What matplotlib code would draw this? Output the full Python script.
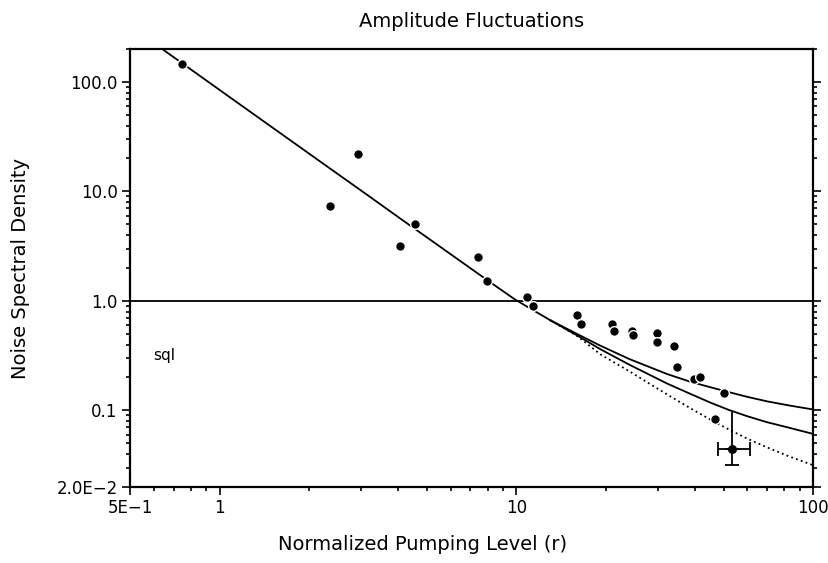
import matplotlib
matplotlib.use('Agg')
import matplotlib.pyplot as plt
from matplotlib.ticker import LogLocator, NullFormatter, FixedLocator, FixedFormatter

plt.rcParams['font.family'] = 'DejaVu Sans'

# theory curve (shared part) and the three branches at high pumping
r_main = [0.641, 0.98, 1.41, 2.02, 3.06, 4.07, 5.0, 8.17, 9.9, 13.0]
v_main = [200, 88, 43.6, 21.8, 9.8, 5.64, 3.8, 1.48, 1.03, 0.667]
r_branch = [13, 16, 19.2, 24, 32.2, 38.5, 45, 52, 60, 70, 83, 100]
v_up = [0.667, 0.50, 0.39, 0.295, 0.215, 0.183, 0.163, 0.147, 0.133, 0.121, 0.111, 0.102]
v_mid = [0.667, 0.485, 0.362, 0.262, 0.176, 0.142, 0.118, 0.101, 0.0885, 0.078, 0.0695, 0.061]
v_dot = [0.667, 0.48, 0.325, 0.228, 0.14, 0.105, 0.0826, 0.067, 0.0552, 0.0459, 0.038, 0.0316]

# measured points
r_pts = [0.749, 2.36, 2.93, 4.05, 4.57, 7.43, 7.94, 10.86, 11.4, 16.0, 16.5,
         21.0, 21.4, 24.5, 24.7, 29.8, 29.8, 34.0, 34.8, 39.8, 41.6, 46.8, 49.9]
v_pts = [145, 7.37, 22.2, 3.2, 5.09, 2.52, 1.51, 1.09, 0.895, 0.745, 0.617,
         0.617, 0.532, 0.532, 0.489, 0.515, 0.422, 0.39, 0.248, 0.194, 0.202, 0.0836, 0.143]

# point with error bars
r_err, v_err = 53.2, 0.0449
r_err_lo, r_err_hi = 47.8, 61.0
v_err_lo, v_err_hi = 0.0316, 0.097

sql_level = 1.0

fig = plt.figure(figsize=(8.29, 5.63), dpi=100)
ax = fig.add_axes([0.157, 0.135, 0.981 - 0.157, 0.913 - 0.135])
ax.set_xscale('log')
ax.set_yscale('log')
ax.set_xlim(0.5, 100)
ax.set_ylim(0.02, 200)

lw = 1.3
ax.plot(r_main, v_main, color='black', lw=lw)
ax.plot(r_branch, v_up, color='black', lw=lw)
ax.plot(r_branch, v_mid, color='black', lw=lw)
ax.plot(r_branch, v_dot, color='black', lw=lw, linestyle=(0, (1, 1.8)))
ax.axhline(sql_level, color='black', lw=lw)

ax.plot(r_pts, v_pts, linestyle='none', marker='o', ms=7, mfc='black',
        mec='white', mew=1.0, zorder=5)

ax.errorbar([r_err], [v_err],
            xerr=[[r_err - r_err_lo], [r_err_hi - r_err]],
            yerr=[[v_err - v_err_lo], [0]],
            fmt='o', ms=5.5, color='black', ecolor='black', elinewidth=1.3,
            capsize=5, capthick=1.3, zorder=6)
ax.vlines(r_err, v_err, v_err_hi, color='black', lw=1.3)

ax.text(0.65, 0.32, 'sql', fontsize=11, ha='center', va='center')

ax.set_title('Amplitude Fluctuations', fontsize=14, pad=16)
ax.set_xlabel('Normalized Pumping Level (r)', fontsize=14)
ax.set_ylabel('Noise Spectral Density', fontsize=14)
ax.xaxis.set_label_coords(0.428, -0.11)
ax.yaxis.set_label_coords(-0.146, 0.5)

ax.xaxis.set_major_locator(FixedLocator([0.5, 1, 10, 100]))
ax.xaxis.set_major_formatter(FixedFormatter(['5E\u22121', '1', '10', '100']))
ax.yaxis.set_major_locator(FixedLocator([0.02, 0.1, 1, 10, 100]))
ax.yaxis.set_major_formatter(FixedFormatter(['2.0E\u22122', '0.1', '1.0', '10.0', '100.0']))
ax.xaxis.set_minor_locator(LogLocator(base=10, subs=range(2, 10)))
ax.yaxis.set_minor_locator(LogLocator(base=10, subs=range(2, 10)))
ax.xaxis.set_minor_formatter(NullFormatter())
ax.yaxis.set_minor_formatter(NullFormatter())

ax.tick_params(which='both', direction='out', top=False, right=True,
               labelright=False, labelsize=12, width=1.2)
ax.tick_params(which='major', length=6, pad=3)
ax.tick_params(which='minor', length=3)

for s in ax.spines.values():
    s.set_linewidth(1.6)

fig.savefig('out.png', dpi=100)
